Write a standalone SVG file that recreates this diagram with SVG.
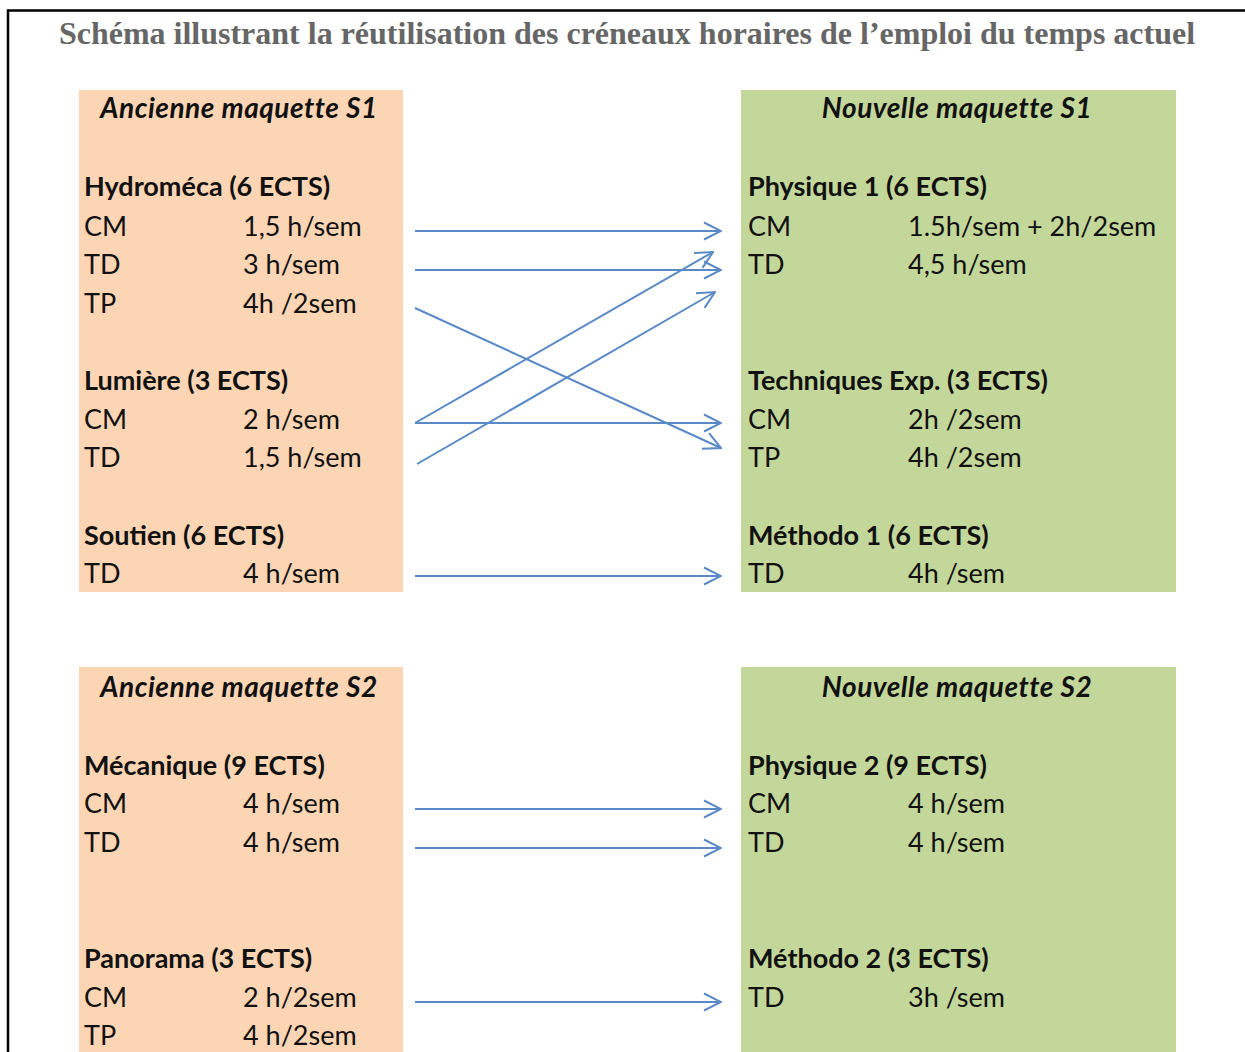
<svg xmlns="http://www.w3.org/2000/svg" width="1245" height="1052" viewBox="0 0 1245 1052">
<defs>
<style>
.t{font-family:Lato,"Noto Sans",sans-serif;font-size:27px;fill:#111}
.b{font-weight:bold}
.h{font-weight:bold;font-style:italic;text-anchor:middle;font-size:28px;letter-spacing:0.5px}
.title{font-family:"Liberation Serif",serif;font-weight:bold;font-size:32px;fill:#666;text-anchor:middle}
.old{fill:#fcd5b4}
.new{fill:#c4d79b}
.c line{stroke:#5a8ac6;stroke-width:2;fill:none}
.c line.a{marker-end:url(#ah)}
</style>
<marker id="ah" viewBox="0 0 19 20" refX="18" refY="10" markerWidth="19" markerHeight="20" markerUnits="userSpaceOnUse" orient="auto">
<path d="M1,1.5 L18,10 L1,18.5" fill="none" stroke="#5a8ac6" stroke-width="2"/>
</marker>
</defs>
<rect width="1245" height="1052" fill="#fff"/>
<path d="M8,1052 V10.5 H1245" fill="none" stroke="#000" stroke-width="2.5"/>
<text class="title" x="627" y="44">Schéma illustrant la réutilisation des créneaux horaires de l’emploi du temps actuel</text>

<g id="old-s1">
<rect class="old" x="79" y="90" width="324" height="502"/>
<text class="t h" x="239" y="118">Ancienne maquette S1</text>
<text class="t b" x="84" y="196">Hydroméca (6 ECTS)</text>
<text class="t" x="84" y="236">CM</text><text class="t" x="243" y="236">1,5 h/sem</text>
<text class="t" x="84" y="274">TD</text><text class="t" x="243" y="274">3 h/sem</text>
<text class="t" x="84" y="313">TP</text><text class="t" x="243" y="313">4h /2sem</text>
<text class="t b" x="84" y="390">Lumière (3 ECTS)</text>
<text class="t" x="84" y="429">CM</text><text class="t" x="243" y="429">2 h/sem</text>
<text class="t" x="84" y="467">TD</text><text class="t" x="243" y="467">1,5 h/sem</text>
<text class="t b" x="84" y="545">Soutien (6 ECTS)</text>
<text class="t" x="84" y="583">TD</text><text class="t" x="243" y="583">4 h/sem</text>
</g>

<g id="new-s1">
<rect class="new" x="741" y="90" width="435" height="502"/>
<text class="t h" x="957" y="118">Nouvelle maquette S1</text>
<text class="t b" x="748" y="196">Physique 1 (6 ECTS)</text>
<text class="t" x="748" y="236">CM</text><text class="t" x="908" y="236">1.5h/sem + 2h/2sem</text>
<text class="t" x="748" y="274">TD</text><text class="t" x="908" y="274">4,5 h/sem</text>
<text class="t b" x="748" y="390">Techniques Exp. (3 ECTS)</text>
<text class="t" x="748" y="429">CM</text><text class="t" x="908" y="429">2h /2sem</text>
<text class="t" x="748" y="467">TP</text><text class="t" x="908" y="467">4h /2sem</text>
<text class="t b" x="748" y="545">Méthodo 1 (6 ECTS)</text>
<text class="t" x="748" y="583">TD</text><text class="t" x="908" y="583">4h /sem</text>
</g>

<g id="old-s2">
<rect class="old" x="79" y="667" width="324" height="385"/>
<text class="t h" x="239" y="697">Ancienne maquette S2</text>
<text class="t b" x="84" y="775">Mécanique (9 ECTS)</text>
<text class="t" x="84" y="813">CM</text><text class="t" x="243" y="813">4 h/sem</text>
<text class="t" x="84" y="852">TD</text><text class="t" x="243" y="852">4 h/sem</text>
<text class="t b" x="84" y="968">Panorama (3 ECTS)</text>
<text class="t" x="84" y="1007">CM</text><text class="t" x="243" y="1007">2 h/2sem</text>
<text class="t" x="84" y="1045">TP</text><text class="t" x="243" y="1045">4 h/2sem</text>
</g>

<g id="new-s2">
<rect class="new" x="741" y="667" width="435" height="385"/>
<text class="t h" x="957" y="697">Nouvelle maquette S2</text>
<text class="t b" x="748" y="775">Physique 2 (9 ECTS)</text>
<text class="t" x="748" y="813">CM</text><text class="t" x="908" y="813">4 h/sem</text>
<text class="t" x="748" y="852">TD</text><text class="t" x="908" y="852">4 h/sem</text>
<text class="t b" x="748" y="968">Méthodo 2 (3 ECTS)</text>
<text class="t" x="748" y="1007">TD</text><text class="t" x="908" y="1007">3h /sem</text>
</g>

<g id="connectors" class="c">
<line class="a" x1="415" y1="231" x2="721" y2="231"/>
<line class="a" x1="415" y1="270" x2="721" y2="270"/>
<line class="a" x1="415" y1="308" x2="721" y2="448"/>
<line class="a" x1="415" y1="423" x2="713" y2="252"/>
<line class="a" x1="415" y1="423" x2="721" y2="423"/>
<line class="a" x1="417" y1="464" x2="715" y2="292"/>
<line class="a" x1="415" y1="576" x2="721" y2="576"/>
<line class="a" x1="415" y1="809" x2="721" y2="809"/>
<line class="a" x1="415" y1="848" x2="721" y2="848"/>
<line class="a" x1="415" y1="1002" x2="721" y2="1002"/>
</g>
</svg>
